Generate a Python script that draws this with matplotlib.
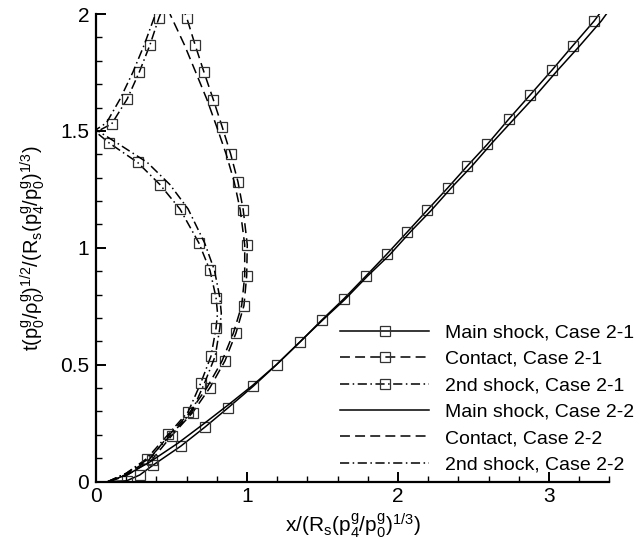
import matplotlib.pyplot as plt
from matplotlib.ticker import MultipleLocator

plt.rcParams['font.family'] = ['Liberation Sans', 'DejaVu Sans']
plt.rcParams['mathtext.fontset'] = 'custom'
plt.rcParams['mathtext.rm'] = 'Liberation Sans'
plt.rcParams['mathtext.it'] = 'Liberation Sans'
plt.rcParams['mathtext.default'] = 'regular'

# Case 2-1 (lines with square markers)
main21_x = [0.09, 0.203, 0.29, 0.380, 0.561, 0.722, 0.876, 1.042, 1.196, 1.351, 1.494, 1.642, 1.786, 1.925,
            2.062, 2.194, 2.329, 2.459, 2.592, 2.733, 2.874, 3.020, 3.157, 3.300, 3.333]
main21_t = [0.0, 0.003, 0.028, 0.071, 0.151, 0.233, 0.316, 0.408, 0.500, 0.597, 0.690, 0.782, 0.878, 0.972,
            1.068, 1.161, 1.256, 1.350, 1.443, 1.550, 1.653, 1.760, 1.864, 1.971, 2.0]

contact21_x = [0.09, 0.2, 0.369, 0.501, 0.640, 0.755, 0.854, 0.927, 0.980, 0.998, 1.002, 0.975, 0.940,
               0.892, 0.836, 0.777, 0.715, 0.656, 0.601, 0.59]
contact21_t = [0.0, 0.025, 0.092, 0.196, 0.295, 0.402, 0.516, 0.635, 0.753, 0.880, 1.013, 1.163, 1.283,
               1.401, 1.517, 1.634, 1.752, 1.869, 1.984, 2.0]

second21_x = [0.08, 0.2, 0.336, 0.479, 0.611, 0.695, 0.762, 0.795, 0.805, 0.795, 0.755, 0.682, 0.556,
              0.424, 0.276, 0.088, 0.0, 0.104, 0.207, 0.287, 0.358, 0.417, 0.427]
second21_t = [0.0, 0.035, 0.098, 0.202, 0.299, 0.423, 0.537, 0.656, 0.72, 0.787, 0.903, 1.020, 1.166,
              1.270, 1.365, 1.448, 1.495, 1.530, 1.637, 1.752, 1.869, 1.984, 2.0]

# Case 2-2 (lines only)
main22_x = [0.08, 0.21, 0.36, 0.545, 0.72, 0.88, 1.035, 1.195, 1.355, 1.50, 1.65, 1.80, 1.945, 2.085,
            2.22, 2.358, 2.49, 2.625, 2.767, 2.91, 3.058, 3.198, 3.346, 3.38]
main22_t = [0.0, 0.03, 0.085, 0.165, 0.25, 0.33, 0.41, 0.50, 0.60, 0.69, 0.78, 0.88, 0.97, 1.07,
            1.16, 1.26, 1.35, 1.45, 1.55, 1.65, 1.76, 1.86, 1.97, 2.0]

contact22_x = [0.08, 0.2, 0.35, 0.48, 0.62, 0.735, 0.835, 0.91, 0.965, 0.985, 0.985, 0.955, 0.915,
               0.862, 0.80, 0.735, 0.66, 0.585, 0.49]
contact22_t = [0.0, 0.03, 0.092, 0.196, 0.295, 0.402, 0.516, 0.635, 0.753, 0.880, 1.013, 1.163, 1.283,
               1.401, 1.517, 1.634, 1.752, 1.869, 2.0]

second22_x = [0.08, 0.2, 0.35, 0.50, 0.635, 0.72, 0.79, 0.82, 0.83, 0.82, 0.785, 0.72, 0.61,
              0.49, 0.34, 0.14, 0.0, 0.07, 0.16, 0.245, 0.32, 0.385, 0.395]
second22_t = [0.0, 0.035, 0.098, 0.202, 0.299, 0.423, 0.537, 0.656, 0.72, 0.787, 0.903, 1.020, 1.166,
              1.270, 1.365, 1.448, 1.505, 1.535, 1.637, 1.752, 1.869, 1.984, 2.0]

labels = ['Main shock, Case 2-1', 'Contact, Case 2-1', '2nd shock, Case 2-1',
          'Main shock, Case 2-2', 'Contact, Case 2-2', '2nd shock, Case 2-2']

dash = (0, (6.5, 3.4))
dashdot = (0, (6.0, 2.3, 1.0, 2.3))
mk = dict(marker='s', markersize=7, markerfacecolor='none', markeredgecolor='#333333', markeredgewidth=0.9)

fig = plt.figure(figsize=(6.42, 5.40), dpi=100)
ax = fig.add_axes([0.1495, 0.1083, 0.7997, 0.8657])

ax.plot(main21_x, main21_t, color='k', lw=1.1, linestyle='-',
        markevery=list(range(1, 24)), label=labels[0], **mk)
ax.plot(contact21_x, contact21_t, color='k', lw=1.1, linestyle=dash,
        markevery=list(range(2, 19)), label=labels[1], **mk)
ax.plot(second21_x, second21_t, color='k', lw=1.1, linestyle=dashdot,
        markevery=[2, 3, 4, 5, 6, 7, 9, 10, 11, 12, 13, 14, 15, 17, 18, 19, 20, 21], label=labels[2], **mk)
ax.plot(main22_x, main22_t, color='k', lw=1.1, linestyle='-', label=labels[3])
ax.plot(contact22_x, contact22_t, color='k', lw=1.1, linestyle=dash, label=labels[4])
ax.plot(second22_x, second22_t, color='k', lw=1.1, linestyle=dashdot, label=labels[5])

ax.set_xlim(0, 3.4)
ax.set_ylim(0, 2)
ax.spines['top'].set_visible(False)
ax.spines['right'].set_visible(False)
ax.spines['left'].set_linewidth(1.6)
ax.spines['bottom'].set_linewidth(1.6)
ax.xaxis.set_major_locator(MultipleLocator(1))
ax.xaxis.set_minor_locator(MultipleLocator(0.2))
ax.yaxis.set_major_locator(MultipleLocator(0.5))
ax.yaxis.set_minor_locator(MultipleLocator(0.1))
ax.yaxis.set_major_formatter(plt.FormatStrFormatter('%g'))
ax.xaxis.set_major_formatter(plt.FormatStrFormatter('%g'))
ax.tick_params(which='major', direction='in', length=7, width=1.4, labelsize=15, top=False, right=False)
ax.tick_params(which='minor', direction='in', length=4, width=1.0, top=False, right=False)
ax.tick_params(axis='y', which='major', pad=5)
ax.tick_params(axis='x', which='major', pad=4)

ax.set_xlabel(r'x/(R$_s$(p$_4^g$/p$_0^g$)$^{1/3}$)', fontsize=15, labelpad=4)
ax.set_ylabel(r't(p$_0^g$/$\rho_0^g$)$^{1/2}$/(R$_s$(p$_4^g$/p$_0^g$)$^{1/3}$)', fontsize=14.5, labelpad=9)

fig.legend(loc='upper left', bbox_to_anchor=(0.5296, 0.40), frameon=False, fontsize=14,
           handlelength=4.6, handletextpad=0.8, labelspacing=0.45, borderpad=0, borderaxespad=0,
           numpoints=1)

fig.savefig('out.png', dpi=100)
